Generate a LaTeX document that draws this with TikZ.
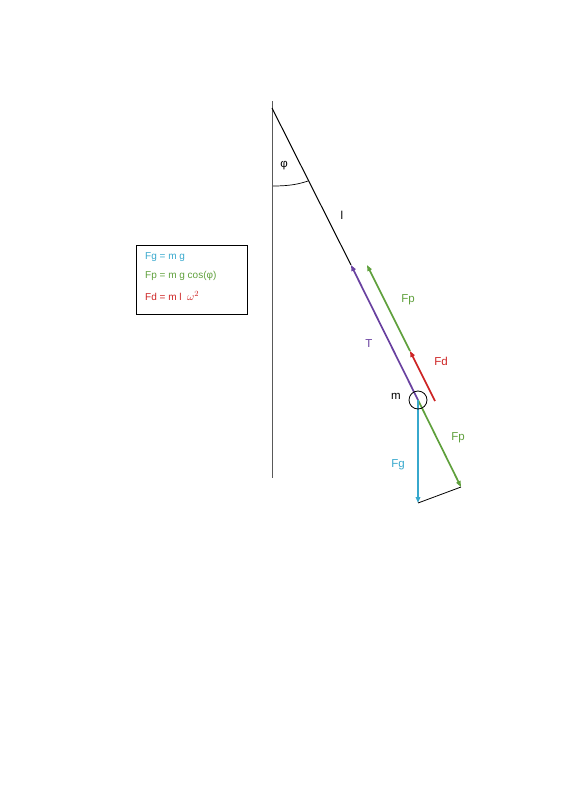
\documentclass[tikz,border=0pt]{standalone}
\usepackage{fontspec}
\setmainfont{Liberation Sans}
\usetikzlibrary{arrows.meta}
\definecolor{fgc}{RGB}{55,168,205}
\definecolor{fpc}{RGB}{95,160,60}
\definecolor{fdc}{RGB}{205,35,35}
\definecolor{tc}{RGB}{105,65,160}
\begin{document}
\begin{tikzpicture}[x=1pt,y=-1pt,
  vec/.style={line width=1.7pt,-{Triangle[length=6pt,width=4.5pt]}},
  lbl/.style={font=\fontsize{11.5}{13}\selectfont,inner sep=0pt},
  leg/.style={font=\fontsize{10}{12}\selectfont,anchor=west,inner sep=0pt}]
\useasboundingbox (0,0) rectangle (566,800);
\coordinate (vtop) at (272,101);
\coordinate (vbot) at (272,478);
\coordinate (pivot) at (272,108);
\coordinate (mass) at (418,400);
\coordinate (Thead) at (351,265);
\coordinate (fphead) at (367,265);
\coordinate (fdhead) at (410,351);
\coordinate (fdtail) at (435,401);
\coordinate (fp2head) at (461,487);
\coordinate (fghead) at (418,503);
\coordinate (a1) at (273,186);
\coordinate (a2) at (308,181);
% vertical and string
\draw[line width=0.7pt, gray!70!black] (vtop) -- (vbot);
\draw[line width=1pt] (pivot) -- (Thead);
\draw[line width=0.7pt] (a1) .. controls (290,186) and (299,184) .. (a2);
% vectors
\draw[vec, tc] (mass) -- (Thead);
\draw[vec, fpc] (fdhead) -- (fphead);
\draw[vec, fdc] (fdtail) -- (fdhead);
\draw[vec, fpc] (mass) -- (fp2head);
\draw[vec, fgc] (mass) -- (fghead);
\draw[line width=0.8pt] (fghead) -- (fp2head);
\node[draw, circle, minimum size=18pt, inner sep=0pt, line width=0.8pt] (m) at (mass) {};
% labels
\node[lbl] (phi) at (284,166) {φ};
\node[lbl] (l) at (342,215) {l};
\node[lbl, tc] (T) at (369,344) {T};
\node[lbl, fpc] (Fp1) at (408,300) {Fp};
\node[lbl, fdc] (Fd) at (441,361) {Fd};
\node[lbl] (mlab) at (396,396) {m};
\node[lbl, fpc] (Fp2) at (458,438) {Fp};
\node[lbl, fgc] (Fg) at (398,465) {Fg};
% legend
\draw[line width=0.7pt] (136,245) rectangle (247,314);
\node[leg, fgc] (L1) at (145,257) {Fg = m g};
\node[leg, fpc] (L2) at (145,276) {Fp = m g cos(φ)};
\node[leg, fdc] (L3) at (145,296) {Fd = m l \;{\fontsize{11}{12}\selectfont$\omega^2$}};
\end{tikzpicture}
\end{document}
